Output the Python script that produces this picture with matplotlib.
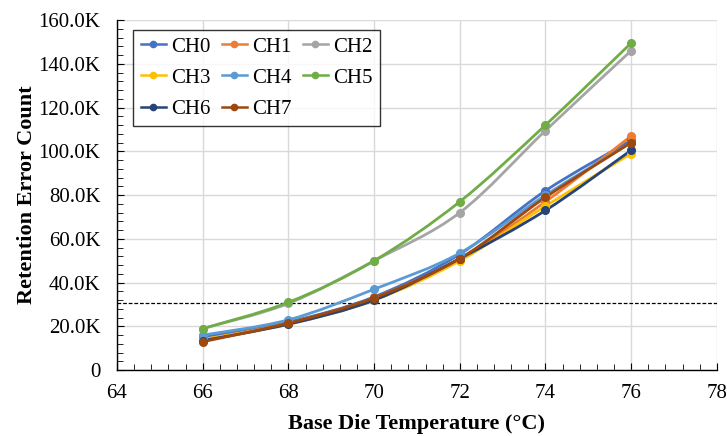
"""Retention error count vs base die temperature, per channel."""

import matplotlib

matplotlib.use("Agg")
import matplotlib.pyplot as plt
import numpy as np
from matplotlib.path import Path
from matplotlib.patches import PathPatch
from matplotlib.ticker import FuncFormatter, MultipleLocator

plt.rcParams["font.family"] = ["Liberation Serif", "DejaVu Serif"]

temps = [66, 68, 70, 72, 74, 76]
channels = ["CH0", "CH1", "CH2", "CH3", "CH4", "CH5", "CH6", "CH7"]

# error counts in thousands
ch0 = [15.0, 22.0, 33.5, 53.0, 82.0, 105.0]
ch1 = [14.0, 21.5, 33.0, 51.0, 77.0, 107.0]
ch2 = [19.0, 30.5, 50.0, 72.0, 109.5, 146.0]
ch3 = [14.0, 21.0, 32.0, 50.0, 75.0, 99.0]
ch4 = [16.0, 23.0, 37.0, 53.5, 80.0, 104.0]
ch5 = [19.0, 31.0, 50.0, 77.0, 112.0, 149.5]
ch6 = [13.5, 21.0, 32.0, 51.0, 73.0, 100.5]
ch7 = [13.0, 21.5, 33.0, 51.0, 79.0, 104.0]
series = [ch0, ch1, ch2, ch3, ch4, ch5, ch6, ch7]

threshold = 30.5

COLORS = ["#4472C4", "#ED7D31", "#A5A5A5", "#FFC000",
          "#5B9BD5", "#70AD47", "#264478", "#9E480E"]


def _smooth_path(x, y):
    # Catmull-Rom style Bezier through the points, like Excel's smoothed line
    x = np.asarray(x, float)
    y = np.asarray(y, float) * 1000
    pts = np.column_stack([x, y])
    verts = [pts[0]]
    codes = [Path.MOVETO]
    n = len(pts)
    for i in range(n - 1):
        p0 = pts[i - 1] if i > 0 else pts[i]
        p1, p2 = pts[i], pts[i + 1]
        p3 = pts[i + 2] if i + 2 < n else pts[i + 1]
        c1 = p1 + (p2 - p0) / 6.0
        c2 = p2 - (p3 - p1) / 6.0
        verts += [c1, c2, p2]
        codes += [Path.CURVE4] * 3
    return Path(verts, codes)


fig = plt.figure(figsize=(7.27, 4.36), dpi=100)
ax = fig.add_axes([0.161, 0.151, 0.825, 0.803])

handles = []
for name, vals, color in zip(channels, series, COLORS):
    ax.add_patch(PathPatch(_smooth_path(temps, vals), facecolor="none",
                           edgecolor=color, linewidth=2.0, zorder=3))
    ax.plot(temps, np.array(vals) * 1000, linestyle="none", marker="o",
            markersize=5.5, color=color, zorder=4)
    h, = ax.plot([], [], marker="o", markersize=4.5, color=color,
                 linewidth=1.8, label=name)
    handles.append(h)

ax.axhline(threshold * 1000, color="black", linestyle=(0, (3, 1.5)),
           linewidth=0.9, zorder=2)

ax.set_xlim(64, 78)
ax.set_ylim(0, 160000)
ax.xaxis.set_major_locator(MultipleLocator(2))
ax.xaxis.set_minor_locator(MultipleLocator(0.4))
ax.yaxis.set_major_locator(MultipleLocator(20000))
ax.yaxis.set_minor_locator(MultipleLocator(4000))
ax.yaxis.set_major_formatter(
    FuncFormatter(lambda v, _: "0" if v == 0 else f"{v / 1000:.1f}K"))

ax.grid(True, which="major", color="#D9D9D9", linewidth=1.0, zorder=0)
ax.set_axisbelow(True)
for side in ("top", "right"):
    ax.spines[side].set_visible(False)
for side in ("left", "bottom"):
    ax.spines[side].set_color("black")
    ax.spines[side].set_linewidth(1.0)

ax.tick_params(which="both", direction="in", colors="black", labelsize=15,
               top=False, right=False)
ax.tick_params(which="major", length=5)
ax.tick_params(which="minor", length=4)
ax.tick_params(axis="y", pad=12)
ax.tick_params(axis="x", pad=10)

ax.set_xlabel("Base Die Temperature (°C)", fontsize=16, fontweight="bold",
              labelpad=8)
ax.set_ylabel("Retention Error Count", fontsize=16, fontweight="bold",
              labelpad=1)

# row-wise legend order: CH0 CH1 CH2 / CH3 CH4 CH5 / CH6 CH7
order = [0, 3, 6, 1, 4, 7, 2, 5]
leg = ax.legend([handles[i] for i in order], [channels[i] for i in order],
                ncol=3, loc="upper left", bbox_to_anchor=(0.027, 0.972),
                borderaxespad=0, fontsize=15, frameon=True, fancybox=False,
                edgecolor="black", handlelength=1.2, handletextpad=0.25,
                columnspacing=0.55, labelspacing=0.55, borderpad=0.35)
leg.get_frame().set_linewidth(1.0)

fig.savefig("out.png", dpi=100)
